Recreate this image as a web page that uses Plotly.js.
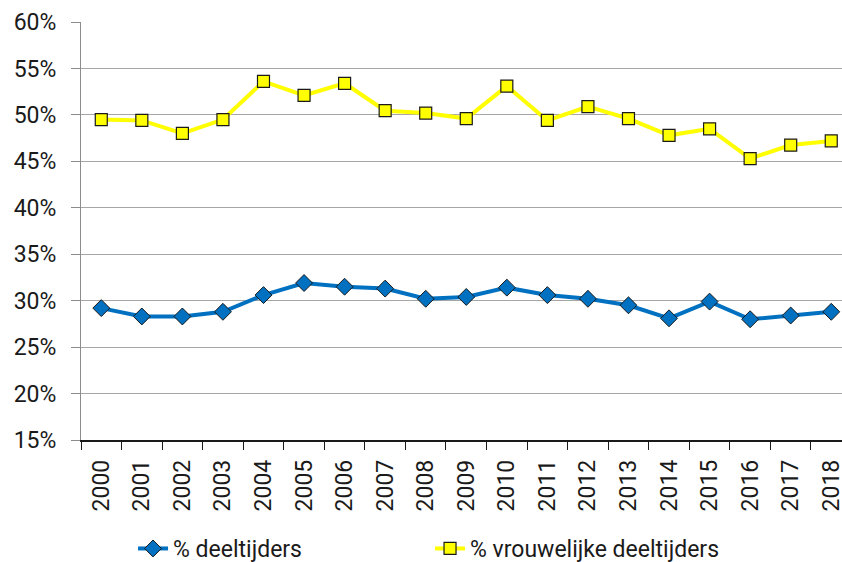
<!DOCTYPE html>
<html>
<head>
<meta charset="utf-8">
<script src="https://cdn.plot.ly/plotly-3.0.1.min.js"></script>
<style>html,body{margin:0;padding:0;background:#fff;}#chart{width:842px;height:562px;}</style>
</head>
<body>
<div id="chart"></div>
<script>
const years = ['2000','2001','2002','2003','2004','2005','2006','2007','2008','2009','2010','2011','2012','2013','2014','2015','2016','2017','2018'];
const deeltijders = [29.2,28.3,28.3,28.8,30.6,31.9,31.5,31.3,30.2,30.4,31.4,30.6,30.2,29.5,28.1,29.9,28.0,28.4,28.8];
const vrouwelijkeDeeltijders = [49.5,49.4,48.0,49.5,53.6,52.1,53.4,50.45,50.2,49.6,53.1,49.4,50.9,49.6,47.8,48.5,45.3,46.75,47.2];
const yTickVals = [15,20,25,30,35,40,45,50,55,60];
const yTickText = yTickVals.map(v => v + '%');

const font = {family: 'Roboto, "Noto Sans", sans-serif', size: 23, color: '#1a1a1a'};

const traces = [
  {
    x: years, y: deeltijders, name: '% deeltijders', type: 'scatter', mode: 'lines+markers',
    line: {color: '#0070C0', width: 4},
    marker: {symbol: 'diamond', size: 13, color: '#0070C0', line: {color: '#1a1a1a', width: 1}}
  },
  {
    x: years, y: vrouwelijkeDeeltijders, name: '% vrouwelijke deeltijders', type: 'scatter', mode: 'lines+markers',
    line: {color: '#FFFF00', width: 4},
    marker: {symbol: 'square', size: 12, color: '#FFFF00', line: {color: '#1a1a1a', width: 1.2}}
  }
];

const layout = {
  width: 842, height: 562,
  margin: {l: 81, r: 0, t: 21.5, b: 122.3},
  paper_bgcolor: '#fff', plot_bgcolor: '#fff',
  font: font,
  showlegend: true,
  legend: {
    orientation: 'h', xref: 'container', yref: 'container',
    x: 0.158, y: 0.024, xanchor: 'left', yanchor: 'middle',
    font: font, entrywidth: 252, itemwidth: 30, bgcolor: 'rgba(0,0,0,0)'
  },
  xaxis: {
    type: 'category', range: [-0.5, 18.265],
    tickangle: -90, tickson: 'boundaries', ticks: 'outside', ticklen: 8, tickcolor: '#1a1a1a',
    showline: true, linecolor: '#1a1a1a', linewidth: 1.5,
    showgrid: false, tickfont: font, ticklabelstandoff: 9
  },
  yaxis: {
    range: [15, 60], tickvals: yTickVals, ticktext: yTickText,
    ticks: 'outside', ticklen: 9, tickcolor: '#8c8c8c',
    showline: true, linecolor: '#8c8c8c', linewidth: 1,
    showgrid: true, gridcolor: '#a6a6a6', gridwidth: 1,
    zeroline: false, tickfont: font, ticklabelstandoff: 10
  }
};

Plotly.newPlot('chart', traces, layout, {displayModeBar: false, staticPlot: true});
</script>
</body>
</html>
